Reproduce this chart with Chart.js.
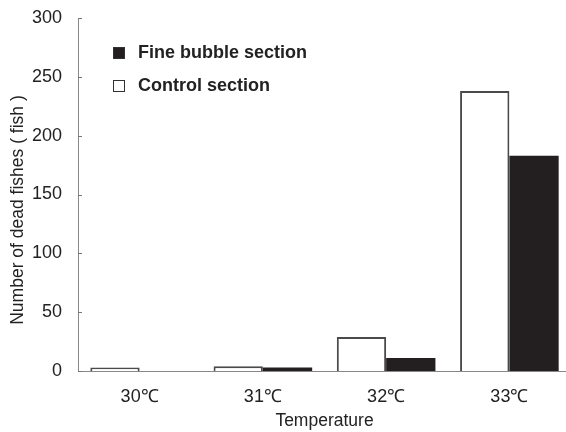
<!DOCTYPE html>
<html><head><meta charset="utf-8">
<script src="https://cdn.jsdelivr.net/npm/chart.js@4"></script>
<style>html,body{margin:0;padding:0;background:#fff;overflow:hidden}#wrap{width:572px;height:432px;position:relative}</style>
</head><body><div id="wrap"><canvas id="c"></canvas></div>
<script>
const categories = ["30\u2103", "31\u2103", "32\u2103", "33\u2103"];
const controlSection = [3, 4, 29, 238];
const fineBubbleSection = [0, 3, 11, 183];
const yTicks = [0, 50, 100, 150, 200, 250, 300];
const yTitle = "Number of dead fishes ( fish )";

const FONT = "'Liberation Sans', Arial, sans-serif";

const innerTicks = {
  id: 'innerTicks',
  afterDraw(chart) {
    const ctx = chart.ctx, y = chart.scales.y, x = chart.scales.x;
    ctx.save();
    ctx.strokeStyle = '#777';
    ctx.lineWidth = 1;
    yTicks.forEach(v => {
      const py = Math.round(y.getPixelForValue(v)) + 0.5;
      ctx.beginPath(); ctx.moveTo(x.left, py); ctx.lineTo(x.left + 4, py); ctx.stroke();
    });
    ctx.fillStyle = '#222';
    ctx.font = "17.5px " + FONT;
    ctx.textAlign = 'center';
    ctx.textBaseline = 'middle';
    ctx.translate(18, 210);
    ctx.rotate(-Math.PI / 2);
    ctx.fillText(yTitle, 0, 0);
    ctx.restore();
  }
};

const customLegend = {
  id: 'customLegend',
  afterDraw(chart) {
    const ctx = chart.ctx;
    const ds = chart.data.datasets.slice().reverse();
    const rows = [47, 80];
    ctx.save();
    ctx.font = "bold 18px " + FONT;
    ctx.textBaseline = 'middle';
    ds.forEach((d, i) => {
      const top = rows[i];
      ctx.fillStyle = d.backgroundColor;
      ctx.fillRect(113.5, top + 0.5, 11, 11);
      ctx.strokeStyle = '#333';
      ctx.lineWidth = 1;
      ctx.strokeRect(113.5, top + 0.5, 11, 11);
      ctx.fillStyle = '#222';
      ctx.fillText(d.label, 138, top + 6);
    });
    ctx.restore();
  }
};

new Chart(document.getElementById('c'), {
  type: 'bar',
  data: {
    labels: categories,
    datasets: [
      { label: 'Control section', data: controlSection, backgroundColor: '#ffffff', borderColor: '#4a4a4a', borderWidth: 2, borderSkipped: 'bottom' },
      { label: 'Fine bubble section', data: fineBubbleSection, backgroundColor: '#231f20', borderColor: '#231f20', borderWidth: 0 }
    ]
  },
  options: {
    responsive: true,
    maintainAspectRatio: false,
    animation: false,
    layout: { padding: { top: 18, left: 0, right: 1, bottom: 0 } },
    datasets: { bar: { categoryPercentage: 0.8, barPercentage: 1.0 } },
    plugins: { legend: { display: false }, tooltip: { enabled: false } },
    scales: {
      x: {
        grid: { display: false, drawTicks: false },
        border: { display: true, color: '#888', width: 1 },
        ticks: { color: '#222', font: { family: FONT, size: 18 }, padding: 15 },
        title: { display: true, text: 'Temperature', color: '#222', font: { family: FONT, size: 17.5 }, padding: { top: 1, bottom: 0 } },
        afterFit(s) { s.height = 61; s.paddingLeft = 0; s.paddingRight = 0; }
      },
      y: {
        min: 0, max: 300,
        afterBuildTicks(s) { s.ticks = yTicks.map(v => ({ value: v })); },
        grid: { display: false, drawTicks: false },
        border: { display: true, color: '#888', width: 1 },
        ticks: { color: '#222', font: { family: FONT, size: 18 }, padding: 16 },
        title: { display: false },
        afterFit(s) { s.width = 78; s.paddingTop = 0; s.paddingBottom = 0; }
      }
    }
  },
  plugins: [innerTicks, customLegend]
});
</script></body></html>
